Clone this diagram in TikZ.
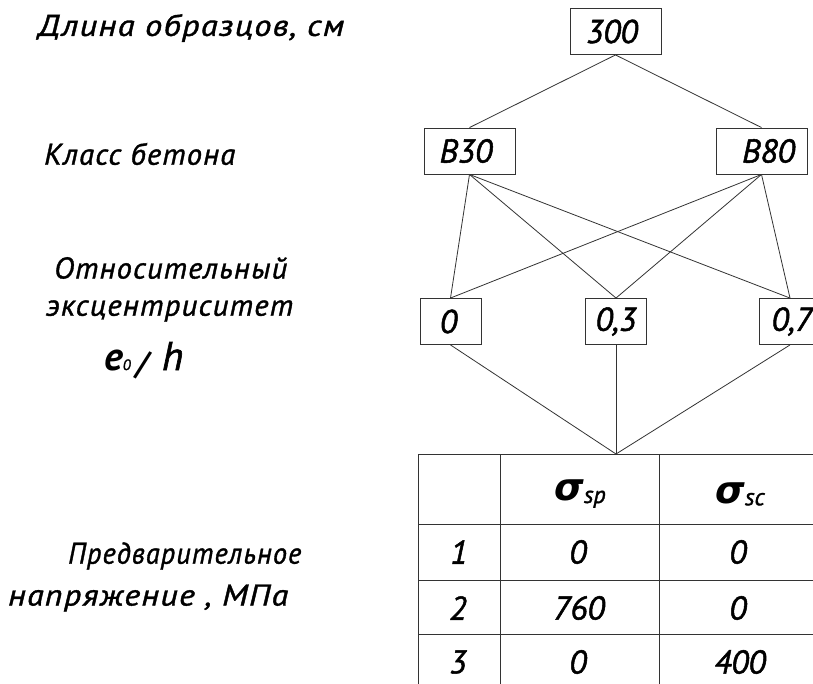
\documentclass[tikz,border=0pt]{standalone}
\usepackage{graphicx}
\usepackage{fontspec}
\setmainfont{PT Sans}[ItalicFeatures={FakeBold=1.5}]
\newfontfamily\sigfont{DejaVu Sans}
\newfontfamily\lblfont[ItalicFeatures={FakeBold=1.2,LetterSpace=4}]{PT Sans}
\definecolor{ink}{HTML}{333333}
\newcommand{\fitw}[2]{\resizebox{#1}{\height}{#2}}
\tikzset{
  x=1bp,y=-1bp,
  box/.style={draw=ink,line width=0.9bp,minimum height=46bp,inner sep=0pt,font=\fontsize{33bp}{35bp}\selectfont\itshape,text=black},
  wide/.style={box,minimum width=91bp},
  narrow/.style={box,minimum width=61bp},
  link/.style={draw=ink,line width=0.8bp},
  grid/.style={draw=ink,line width=1bp},
  cell/.style={inner sep=0pt,font=\fontsize{33bp}{35bp}\selectfont\itshape},
  lbl/.style={inner sep=0pt,anchor=west,font=\fontsize{30bp}{32bp}\lblfont\itshape}
}
\begin{document}
\begin{tikzpicture}
\useasboundingbox (0,0) rectangle (813,684);
\clip (0,0) rectangle (813,684);
\fill[white] (0,0) rectangle (813,684);
% level boxes
\node[wide] (n300) at (615.5,31.5) {300\hspace*{7bp}};
\node[wide] (b30) at (469.5,151) {B30\hspace*{7bp}};
\node[wide] (b80) at (761.5,151) {\hspace*{14bp}B80};
\node[narrow] (e0) at (450.5,321.5) {0\hspace*{4bp}};
\node[narrow] (e3) at (616,321.5) {0,3};
\node[narrow] (e7) at (790,321.5) {\hspace*{4bp}0,7};
\coordinate (tt) at (616,454);
% connectors
\draw[link] (n300.south) -- (b30.north);
\draw[link] (n300.south) -- (b80.north);
\foreach \a in {b30,b80}
  \foreach \b in {e0,e3,e7}
    \draw[link] (\a.south) -- (\b.north);
\draw[link] (e0.south) -- (tt);
\draw[link] (e3.south) -- (tt);
\draw[link] (e7.south) -- (tt);
% table grid
\coordinate (tl) at (418,454);
\coordinate (tm) at (500,454);
\coordinate (tn) at (659,454);
\coordinate (tr) at (820,454);
\draw[grid] (tl) -- (tr);
\draw[grid] (418,524) -- (820,524);
\draw[grid] (418,580) -- (820,580);
\draw[grid] (418,634) -- (820,634);
\draw[grid] (tl) -- (418,690);
\draw[grid] (tm) -- (500,690);
\draw[grid] (tn) -- (659,690);
% table cells
\node[inner sep=0pt] (hsp) at (580,494) {{\fontsize{38bp}{40bp}\sigfont\bfseries\itshape σ}{\fontsize{24bp}{26bp}\selectfont\itshape\raisebox{-2bp}{sp}}};
\node[inner sep=0pt] (hsc) at (740,494) {{\fontsize{38bp}{40bp}\sigfont\bfseries\itshape σ}{\fontsize{24bp}{26bp}\selectfont\itshape\raisebox{-2bp}{sc}}};
\node[cell] (r1) at (459,552) {1};
\node[cell] (r1a) at (578,552) {0};
\node[cell] (r1b) at (738,552) {0};
\node[cell] (r2) at (458,608) {2};
\node[cell] (r2a) at (579,608) {760};
\node[cell] (r2b) at (738,608) {0};
\node[cell] (r3) at (458,662) {3};
\node[cell] (r3a) at (578,662) {0};
\node[cell] (r3b) at (740,662) {400};
% side labels
\node[lbl] (l1) at (38,28) {\fitw{306bp}{Длина образцов, см}};
\node[lbl] (l2) at (44,154) {\fitw{191bp}{Класс бетона}};
\node[lbl] (l3) at (54,268) {\fitw{233bp}{Относительный}};
\node[lbl] (l4) at (46,311) {\fitw{247bp}{эксцентриситет}};
\node[inner sep=0pt,anchor=base west] (l5) at (104,370) {{\fontsize{40bp}{42bp}\selectfont\bfseries\itshape e}{\fontsize{15bp}{16bp}\selectfont\itshape 0}\hspace{5bp}\raisebox{-4bp}{\fontsize{32bp}{34bp}\selectfont\bfseries\itshape /}\hspace{14bp}{\fontsize{40bp}{42bp}\selectfont\itshape h}};
\node[lbl] (l6) at (68,556) {\fitw{233bp}{Предварительное}};
\node[lbl] (l7) at (8,598) {\fitw{280bp}{напряжение , МПа}};
\end{tikzpicture}
\end{document}
